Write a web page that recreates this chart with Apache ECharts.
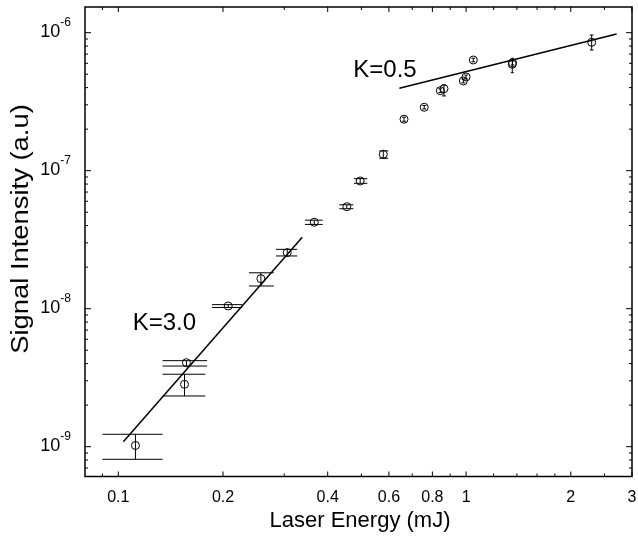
<!DOCTYPE html>
<html>
<head>
<meta charset="utf-8">
<script src="https://cdn.jsdelivr.net/npm/echarts@6/dist/echarts.min.js"></script>
<style>
  html, body { margin: 0; padding: 0; background: #fff; }
  #chart { width: 638px; height: 538px; }
</style>
</head>
<body>
<div id="chart"></div>
<script>
// Measured signal versus laser energy, with error bounds on both quantities
const energy     = [0.112, 0.155, 0.157, 0.207, 0.257, 0.306, 0.366, 0.454, 0.496, 0.578, 0.663, 0.758, 0.843, 0.864, 0.982, 1.000, 1.049, 1.358, 1.360, 2.297];
const energyLow  = [0.090, 0.134, 0.134, 0.186, 0.2375, 0.284, 0.344, 0.432, 0.476, 0.563, 0.655, 0.748, 0.832, 0.853, 0.970, 0.988, 1.036, 1.345, 1.345, 2.27];
const energyHigh = [0.134, 0.178, 0.180, 0.227, 0.280, 0.327, 0.387, 0.474, 0.520, 0.597, 0.672, 0.768, 0.854, 0.875, 0.994, 1.012, 1.062, 1.372, 1.375, 2.325];
const signal     = [1.02e-9, 2.83e-9, 4.06e-9, 1.046e-8, 1.65e-8, 2.55e-8, 4.23e-8, 5.48e-8, 8.42e-8, 1.315e-7, 2.36e-7, 2.88e-7, 3.80e-7, 3.93e-7, 4.47e-7, 4.78e-7, 6.34e-7, 5.90e-7, 6.05e-7, 8.52e-7];
const signalLow  = [8.10e-10, 2.33e-9, 3.84e-9, 1.02e-8, 1.46e-8, 2.41e-8, 4.08e-8, 5.30e-8, 8.10e-8, 1.23e-7, 2.28e-7, 2.80e-7, 3.68e-7, 3.48e-7, 4.33e-7, 4.63e-7, 6.15e-7, 5.13e-7, 5.85e-7, 7.49e-7];
const signalHigh = [1.23e-9, 3.35e-9, 4.20e-9, 1.07e-8, 1.82e-8, 2.69e-8, 4.38e-8, 5.66e-8, 8.75e-8, 1.39e-7, 2.44e-7, 2.97e-7, 3.92e-7, 4.18e-7, 4.61e-7, 4.93e-7, 6.53e-7, 6.52e-7, 6.25e-7, 9.62e-7];

// Power-law fits: steep low-energy regime and saturated high-energy regime
const fitSteepEnergy = [0.1034, 0.338];
const fitSteepSignal = [1.087e-9, 3.29e-8];
const fitFlatEnergy  = [0.643, 2.71];
const fitFlatSignal  = [3.95e-7, 9.79e-7];
const fitLabels = ['K=3.0', 'K=0.5'];
const fitLabelEnergy = [0.110, 0.474];
const fitLabelSignal = [7.87e-9, 5.30e-7];

// Axis ranges and ticks
const X_MIN = 0.0802, X_MAX = 3;
const Y_MIN = 6.08e-10, Y_MAX = 1.535e-6;
const xMajorTicks  = [0.1, 0.2, 0.4, 0.6, 0.8, 1, 2, 3];
const xMajorLabels = ['0.1', '0.2', '0.4', '0.6', '0.8', '1', '2', '3'];
const xMinorTicks  = [0.09, 0.3, 0.5, 0.7, 0.9, 1.2, 1.4, 1.6, 1.8, 2.5];
const yMajorTicks  = [1e-9, 1e-8, 1e-7, 1e-6];
const yMajorExponents = ['-9', '-8', '-7', '-6'];
const yMinorMultipliers = [2, 3, 4, 5, 6, 7, 8, 9];
const yDecades = [1e-10, 1e-9, 1e-8, 1e-7, 1e-6];

const yMinorTicks = [];
yDecades.forEach(d => yMinorMultipliers.forEach(m => {
  const v = m * d;
  if (v > Y_MIN && v < Y_MAX) yMinorTicks.push(v);
}));

const FONT = '"Liberation Sans", Arial, Helvetica, sans-serif';
const INK = '#000';

const points = energy.map((e, i) => [e, signal[i]]);
const bars = energy.map((e, i) => [e, signal[i], energyLow[i], energyHigh[i], signalLow[i], signalHigh[i]]);

function line(x1, y1, x2, y2, w) {
  return { type: 'line', shape: { x1, y1, x2, y2 }, style: { stroke: INK, lineWidth: w || 1 } };
}

function textEl(props) {
  const s = Object.assign({ fill: INK }, props);
  if (s.align) { s.textAlign = s.align; }
  if (s.verticalAlign) { s.textVerticalAlign = s.verticalAlign; }
  return { type: 'text', style: s };
}

const chart = echarts.init(document.getElementById('chart'), null, { renderer: 'canvas' });

chart.setOption({
  animation: false,
  backgroundColor: '#fff',
  grid: {
    left: 85, right: 6, top: 7, bottom: 61.5,
    show: true, borderColor: INK, borderWidth: 1.5, backgroundColor: 'transparent'
  },
  xAxis: {
    type: 'log', logBase: 10, min: X_MIN, max: X_MAX,
    axisLine: { show: false }, axisTick: { show: false },
    axisLabel: { show: false }, splitLine: { show: false }
  },
  yAxis: {
    type: 'log', logBase: 10, min: Y_MIN, max: Y_MAX,
    axisLine: { show: false }, axisTick: { show: false },
    axisLabel: { show: false }, splitLine: { show: false }
  },
  graphic: [
    {
      type: 'text', x: 22, y: 229, rotation: Math.PI / 2, scaleX: 1.19,
      style: { text: 'Signal Intensity (a.u)', font: '23px ' + FONT, fill: INK,
               align: 'center', verticalAlign: 'middle', textAlign: 'center', textVerticalAlign: 'middle' }
    },
    {
      type: 'text', x: 360, y: 521,
      style: { text: 'Laser Energy (mJ)', font: '22px ' + FONT, fill: INK,
               align: 'center', verticalAlign: 'middle', textAlign: 'center', textVerticalAlign: 'middle' }
    }
  ],
  series: [
    // x-axis ticks (bottom and mirrored top) with labels
    {
      type: 'custom', coordinateSystem: 'cartesian2d', silent: true, clip: false, z: 5,
      data: xMajorTicks.map((v, i) => [v, Y_MIN, i]),
      renderItem(params, api) {
        const cs = params.coordSys;
        const px = api.coord([api.value(0), api.value(1)])[0];
        const top = cs.y, bot = cs.y + cs.height;
        return { type: 'group', children: [
          line(px, bot, px, bot - 5),
          line(px, top, px, top + 5),
          textEl({ text: xMajorLabels[api.value(2)], x: px, y: bot + 21, font: '16px ' + FONT, align: 'center', verticalAlign: 'middle' })
        ]};
      }
    },
    {
      type: 'custom', coordinateSystem: 'cartesian2d', silent: true, clip: false, z: 5,
      data: xMinorTicks.map(v => [v, Y_MIN]),
      renderItem(params, api) {
        const cs = params.coordSys;
        const px = api.coord([api.value(0), api.value(1)])[0];
        const top = cs.y, bot = cs.y + cs.height;
        return { type: 'group', children: [
          line(px, bot, px, bot - 3),
          line(px, top, px, top + 3)
        ]};
      }
    },
    // y-axis ticks (left and mirrored right) with power-of-ten labels
    {
      type: 'custom', coordinateSystem: 'cartesian2d', silent: true, clip: false, z: 5,
      data: yMajorTicks.map((v, i) => [X_MIN, v, i]),
      renderItem(params, api) {
        const cs = params.coordSys;
        const py = api.coord([api.value(0), api.value(1)])[1];
        const left = cs.x, right = cs.x + cs.width;
        return { type: 'group', children: [
          line(left, py, left + 6, py),
          line(right, py, right - 6, py),
          textEl({
            text: '{b|10}{s|' + yMajorExponents[api.value(2)] + '}',
            x: 71, y: py - 4, align: 'right', verticalAlign: 'middle',
            rich: {
              b: { fontSize: 18, fontFamily: FONT, lineHeight: 24, verticalAlign: 'bottom', fill: INK },
              s: { fontSize: 12, fontFamily: FONT, lineHeight: 24, verticalAlign: 'top', fill: INK }
            }
          })
        ]};
      }
    },
    {
      type: 'custom', coordinateSystem: 'cartesian2d', silent: true, clip: false, z: 5,
      data: yMinorTicks.map(v => [X_MIN, v]),
      renderItem(params, api) {
        const cs = params.coordSys;
        const py = api.coord([api.value(0), api.value(1)])[1];
        const left = cs.x, right = cs.x + cs.width;
        return { type: 'group', children: [
          line(left, py, left + 3, py),
          line(right, py, right - 3, py)
        ]};
      }
    },
    // error bars: vertical bar with caps spanning the energy uncertainty
    {
      type: 'custom', coordinateSystem: 'cartesian2d', silent: true, z: 3,
      data: bars,
      renderItem(params, api) {
        const x = api.value(0);
        const xl = api.value(2), xh = api.value(3), yl = api.value(4), yh = api.value(5);
        const pLo = api.coord([x, yl]), pHi = api.coord([x, yh]);
        const cl = api.coord([xl, yl]), cr = api.coord([xh, yl]);
        const dl = api.coord([xl, yh]), dr = api.coord([xh, yh]);
        return { type: 'group', children: [
          line(pLo[0], pLo[1], pHi[0], pHi[1]),
          line(cl[0], cl[1], cr[0], cr[1]),
          line(dl[0], dl[1], dr[0], dr[1])
        ]};
      }
    },
    {
      type: 'scatter', z: 4,
      symbol: 'circle', symbolSize: 8,
      itemStyle: { color: 'rgba(0,0,0,0)', borderColor: INK, borderWidth: 1, opacity: 1 },
      data: points
    },
    {
      type: 'line', z: 4, symbol: 'none', silent: true,
      lineStyle: { color: INK, width: 1.5 },
      data: fitSteepEnergy.map((e, i) => [e, fitSteepSignal[i]])
    },
    {
      type: 'line', z: 4, symbol: 'none', silent: true,
      lineStyle: { color: INK, width: 1.5 },
      data: fitFlatEnergy.map((e, i) => [e, fitFlatSignal[i]])
    },
    // slope annotations
    {
      type: 'custom', coordinateSystem: 'cartesian2d', silent: true, clip: false, z: 5,
      data: fitLabels.map((t, i) => [fitLabelEnergy[i], fitLabelSignal[i], i]),
      renderItem(params, api) {
        const p = api.coord([api.value(0), api.value(1)]);
        return textEl({ text: fitLabels[api.value(2)], x: p[0], y: p[1], font: '24px ' + FONT, align: 'left', verticalAlign: 'middle' });
      }
    }
  ]
});
</script>
</body>
</html>
